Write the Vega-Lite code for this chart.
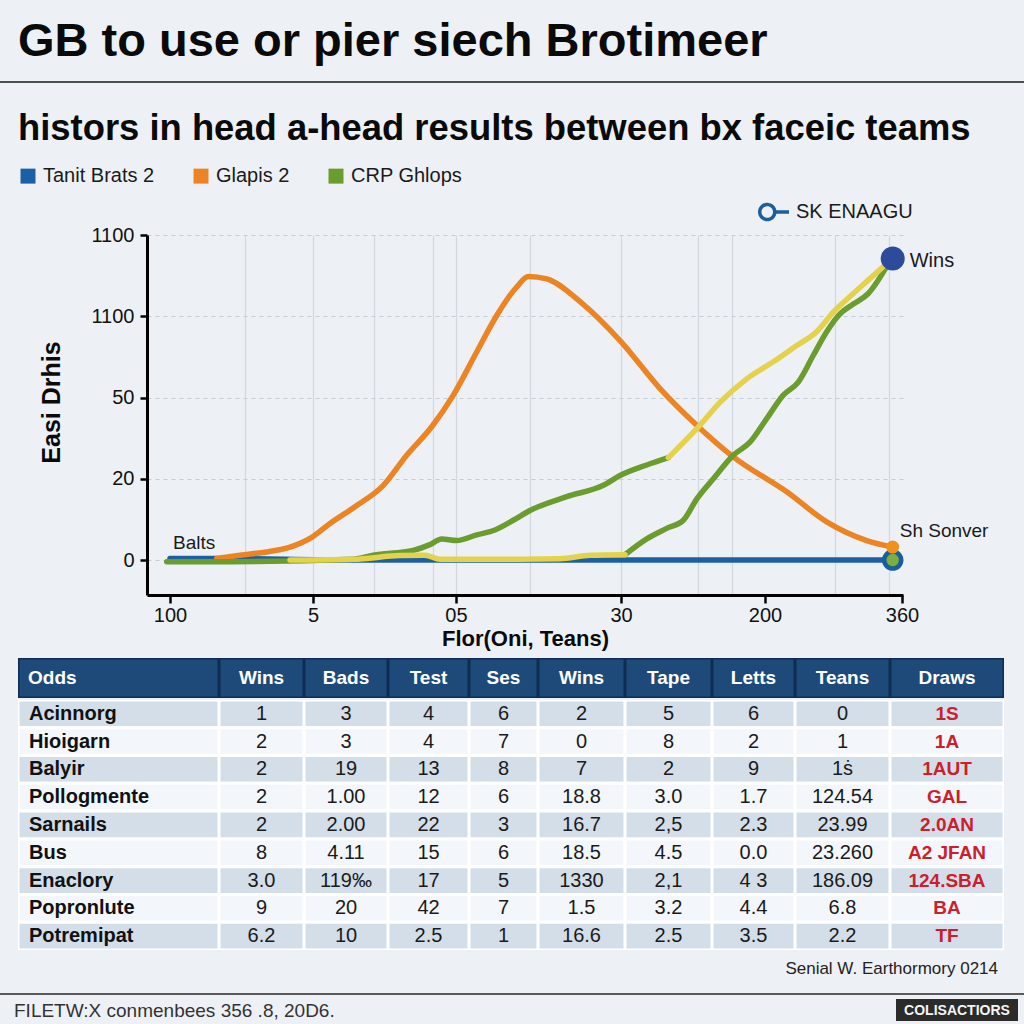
{
  "$schema": "https://vega.github.io/schema/vega-lite/v6.json",
  "background": "#edf1f6",
  "padding": {"top": 18, "left": 0, "right": 0, "bottom": 3},
  "spacing": 0,
  "resolve": {"scale": {"color": "independent", "strokeDash": "independent"}, "legend": {"color": "independent", "strokeDash": "independent"}},
  "config": {
    "view": {"stroke": null},
    "font": "Liberation Sans",
    "title": {"font": "Liberation Sans"},
    "axis": {"labelFont": "Liberation Sans", "titleFont": "Liberation Sans"},
    "legend": {"labelFont": "Liberation Sans"},
    "text": {"font": "Liberation Sans"}
  },
  "datasets": {
    "lines": [
      {"s": "Tanit Brats 2", "g": "b", "t": 3.04, "v": 0.02},
      {"s": "Tanit Brats 2", "g": "b", "t": 9.2, "v": 0.02},
      {"s": "Tanit Brats 2", "g": "b", "t": 27, "v": 0.0},
      {"s": "Tanit Brats 2", "g": "b", "t": 50, "v": 0.0},
      {"s": "Tanit Brats 2", "g": "b", "t": 98.64, "v": 0.0},
      {"s": "Glapis 2", "g": "o", "t": 9.22, "v": 0.02},
      {"s": "Glapis 2", "g": "o", "t": 12.3, "v": 0.06},
      {"s": "Glapis 2", "g": "o", "t": 15.83, "v": 0.1},
      {"s": "Glapis 2", "g": "o", "t": 18.92, "v": 0.16},
      {"s": "Glapis 2", "g": "o", "t": 21.79, "v": 0.28},
      {"s": "Glapis 2", "g": "o", "t": 24.21, "v": 0.45},
      {"s": "Glapis 2", "g": "o", "t": 27.74, "v": 0.67},
      {"s": "Glapis 2", "g": "o", "t": 31.26, "v": 0.92},
      {"s": "Glapis 2", "g": "o", "t": 34.35, "v": 1.29},
      {"s": "Glapis 2", "g": "o", "t": 37.66, "v": 1.64},
      {"s": "Glapis 2", "g": "o", "t": 40.52, "v": 2.03},
      {"s": "Glapis 2", "g": "o", "t": 43.61, "v": 2.56},
      {"s": "Glapis 2", "g": "o", "t": 46.26, "v": 3.01},
      {"s": "Glapis 2", "g": "o", "t": 48.9, "v": 3.36},
      {"s": "Glapis 2", "g": "o", "t": 50.44, "v": 3.49},
      {"s": "Glapis 2", "g": "o", "t": 52.87, "v": 3.46},
      {"s": "Glapis 2", "g": "o", "t": 57.28, "v": 3.18},
      {"s": "Glapis 2", "g": "o", "t": 62.57, "v": 2.7},
      {"s": "Glapis 2", "g": "o", "t": 67.86, "v": 2.11},
      {"s": "Glapis 2", "g": "o", "t": 72.71, "v": 1.66},
      {"s": "Glapis 2", "g": "o", "t": 77.55, "v": 1.27},
      {"s": "Glapis 2", "g": "o", "t": 84.62, "v": 0.84},
      {"s": "Glapis 2", "g": "o", "t": 89.91, "v": 0.47},
      {"s": "Glapis 2", "g": "o", "t": 95.2, "v": 0.24},
      {"s": "Glapis 2", "g": "o", "t": 98.64, "v": 0.16},
      {"s": "CRP Ghlops", "g": "g1", "t": 2.61, "v": -0.02},
      {"s": "CRP Ghlops", "g": "g1", "t": 8.33, "v": -0.02},
      {"s": "CRP Ghlops", "g": "g1", "t": 27.25, "v": 0.01},
      {"s": "CRP Ghlops", "g": "g1", "t": 29.93, "v": 0.06},
      {"s": "CRP Ghlops", "g": "g1", "t": 35.22, "v": 0.12},
      {"s": "CRP Ghlops", "g": "g1", "t": 37.43, "v": 0.19},
      {"s": "CRP Ghlops", "g": "g1", "t": 38.98, "v": 0.26},
      {"s": "CRP Ghlops", "g": "g1", "t": 40.97, "v": 0.24},
      {"s": "CRP Ghlops", "g": "g1", "t": 43.61, "v": 0.31},
      {"s": "CRP Ghlops", "g": "g1", "t": 46.03, "v": 0.37},
      {"s": "CRP Ghlops", "g": "g1", "t": 48.45, "v": 0.49},
      {"s": "CRP Ghlops", "g": "g1", "t": 50.66, "v": 0.61},
      {"s": "CRP Ghlops", "g": "g1", "t": 55.52, "v": 0.78},
      {"s": "CRP Ghlops", "g": "g1", "t": 60.36, "v": 0.92},
      {"s": "CRP Ghlops", "g": "g1", "t": 62.57, "v": 1.04},
      {"s": "CRP Ghlops", "g": "g1", "t": 66.1, "v": 1.17},
      {"s": "CRP Ghlops", "g": "g1", "t": 68.96, "v": 1.26},
      {"s": "CRP Ghlops", "g": "g2", "t": 63.23, "v": 0.065},
      {"s": "CRP Ghlops", "g": "g2", "t": 66.1, "v": 0.26},
      {"s": "CRP Ghlops", "g": "g2", "t": 68.74, "v": 0.39},
      {"s": "CRP Ghlops", "g": "g2", "t": 70.94, "v": 0.49},
      {"s": "CRP Ghlops", "g": "g2", "t": 72.71, "v": 0.75},
      {"s": "CRP Ghlops", "g": "g2", "t": 74.91, "v": 1.0},
      {"s": "CRP Ghlops", "g": "g2", "t": 77.55, "v": 1.29},
      {"s": "CRP Ghlops", "g": "g2", "t": 79.76, "v": 1.45},
      {"s": "CRP Ghlops", "g": "g2", "t": 81.97, "v": 1.74},
      {"s": "CRP Ghlops", "g": "g2", "t": 84.17, "v": 2.03},
      {"s": "CRP Ghlops", "g": "g2", "t": 86.15, "v": 2.19},
      {"s": "CRP Ghlops", "g": "g2", "t": 88.14, "v": 2.52},
      {"s": "CRP Ghlops", "g": "g2", "t": 89.91, "v": 2.81},
      {"s": "CRP Ghlops", "g": "g2", "t": 91.67, "v": 3.03},
      {"s": "CRP Ghlops", "g": "g2", "t": 93.43, "v": 3.15},
      {"s": "CRP Ghlops", "g": "g2", "t": 95.41, "v": 3.28},
      {"s": "CRP Ghlops", "g": "g2", "t": 97.84, "v": 3.61},
      {"s": "Wins", "g": "y1", "t": 18.92, "v": 0.0},
      {"s": "Wins", "g": "y1", "t": 27.25, "v": 0.01},
      {"s": "Wins", "g": "y1", "t": 33.47, "v": 0.055},
      {"s": "Wins", "g": "y1", "t": 36.77, "v": 0.06},
      {"s": "Wins", "g": "y1", "t": 38.76, "v": 0.01},
      {"s": "Wins", "g": "y1", "t": 49.34, "v": 0.01},
      {"s": "Wins", "g": "y1", "t": 54.63, "v": 0.016},
      {"s": "Wins", "g": "y1", "t": 58.6, "v": 0.058},
      {"s": "Wins", "g": "y1", "t": 63.23, "v": 0.065},
      {"s": "Wins", "g": "y2", "t": 68.96, "v": 1.26},
      {"s": "Wins", "g": "y2", "t": 73.15, "v": 1.66},
      {"s": "Wins", "g": "y2", "t": 75.79, "v": 1.94},
      {"s": "Wins", "g": "y2", "t": 79.33, "v": 2.23},
      {"s": "Wins", "g": "y2", "t": 82.84, "v": 2.44},
      {"s": "Wins", "g": "y2", "t": 85.94, "v": 2.64},
      {"s": "Wins", "g": "y2", "t": 88.58, "v": 2.81},
      {"s": "Wins", "g": "y2", "t": 90.78, "v": 3.05},
      {"s": "Wins", "g": "y2", "t": 93.43, "v": 3.28},
      {"s": "Wins", "g": "y2", "t": 96.07, "v": 3.5},
      {"s": "Wins", "g": "y2", "t": 97.84, "v": 3.65}
    ],
    "marks": [
      {"name": "Wins", "t": 98.64, "v": 3.71},
      {"name": "end", "t": 98.64, "v": 0},
      {"name": "Sh Sonver", "t": 98.64, "v": 0.16},
      {"name": "Balts", "t": 3.04, "v": 0}
    ],
    "header": [
      {"col": "c0", "label": "Odds"},
      {"col": "c1", "label": "Wins"},
      {"col": "c2", "label": "Bads"},
      {"col": "c3", "label": "Test"},
      {"col": "c4", "label": "Ses"},
      {"col": "c5", "label": "Wins"},
      {"col": "c6", "label": "Tape"},
      {"col": "c7", "label": "Letts"},
      {"col": "c8", "label": "Teans"},
      {"col": "c9", "label": "Draws"}
    ],
    "table": [
      {"i": 1, "c0": "Acinnorg", "c1": "1", "c2": "3", "c3": "4", "c4": "6", "c5": "2", "c6": "5", "c7": "6", "c8": "0", "c9": "1S"},
      {"i": 2, "c0": "Hioigarn", "c1": "2", "c2": "3", "c3": "4", "c4": "7", "c5": "0", "c6": "8", "c7": "2", "c8": "1", "c9": "1A"},
      {"i": 3, "c0": "Balyir", "c1": "2", "c2": "19", "c3": "13", "c4": "8", "c5": "7", "c6": "2", "c7": "9", "c8": "1ṡ", "c9": "1AUT"},
      {"i": 4, "c0": "Pollogmente", "c1": "2", "c2": "1.00", "c3": "12", "c4": "6", "c5": "18.8", "c6": "3.0", "c7": "1.7", "c8": "124.54", "c9": "GAL"},
      {"i": 5, "c0": "Sarnails", "c1": "2", "c2": "2.00", "c3": "22", "c4": "3", "c5": "16.7", "c6": "2,5", "c7": "2.3", "c8": "23.99", "c9": "2.0AN"},
      {"i": 6, "c0": "Bus", "c1": "8", "c2": "4.11", "c3": "15", "c4": "6", "c5": "18.5", "c6": "4.5", "c7": "0.0", "c8": "23.260", "c9": "A2 JFAN"},
      {"i": 7, "c0": "Enaclory", "c1": "3.0", "c2": "119‰", "c3": "17", "c4": "5", "c5": "1330", "c6": "2,1", "c7": "4 3", "c8": "186.09", "c9": "124.SBA"},
      {"i": 8, "c0": "Popronlute", "c1": "9", "c2": "20", "c3": "42", "c4": "7", "c5": "1.5", "c6": "3.2", "c7": "4.4", "c8": "6.8", "c9": "BA"},
      {"i": 9, "c0": "Potremipat", "c1": "6.2", "c2": "10", "c3": "2.5", "c4": "1", "c5": "16.6", "c6": "2.5", "c7": "3.5", "c8": "2.2", "c9": "TF"}
    ]
  },
  "vconcat": [
    {
      "width": 1024, "height": 2, "data": {"values": []}, "mark": "point",
      "view": {"fill": "#4f4f4f"},
      "title": {"text": "GB to use or pier siech Brotimeer", "anchor": "start", "frame": "group", "dx": 18, "offset": 15, "fontSize": 47, "fontWeight": "bold", "color": "#0a0a0a"}
    },
    {"width": 1, "height": 27, "data": {"values": []}, "mark": "point"},
    {
      "spacing": 0,
      "resolve": {"scale": {"color": "independent", "strokeDash": "independent"}, "legend": {"color": "independent", "strokeDash": "independent"}},
      "hconcat": [
        {"width": 18, "height": 1, "data": {"values": []}, "mark": "point"},
        {
          "width": 756, "height": 360,
          "title": {"text": "histors in head a-head results between bx faceic teams", "anchor": "start", "frame": "group", "dx": -129, "offset": 19, "fontSize": 36.4, "fontWeight": "bold", "color": "#0a0a0a"},
          "resolve": {"axis": {"x": "independent", "y": "independent"}},
          "layer": [
            {
              "data": {"name": "lines"},
              "mark": {"type": "line", "strokeWidth": 5.5, "strokeCap": "round", "strokeJoin": "round", "interpolate": "monotone"},
              "encoding": {
                "x": {"field": "t", "type": "quantitative", "scale": {"domain": [0, 100], "nice": false, "zero": false},
                  "axis": {"orient": "bottom", "values": [3.04, 21.96, 40.87, 62.7, 81.75, 99.87],
                    "labelExpr": "datum.value < 10 ? '100' : datum.value < 30 ? '5' : datum.value < 50 ? '05' : datum.value < 70 ? '30' : datum.value < 90 ? '200' : '360'",
                    "grid": false, "domainColor": "#000000", "domainWidth": 3, "tickColor": "#000000", "tickWidth": 2.5, "tickSize": 8,
                    "labelFontSize": 20, "labelColor": "#111111", "labelPadding": 2, "labelFlush": false, "labelOverlap": false,
                    "title": "Flor(Oni, Teans)", "titleFontSize": 22, "titleFontWeight": "bold", "titleColor": "#0a0a0a", "titlePadding": 3}},
                "y": {"field": "v", "type": "quantitative", "scale": {"domain": [-0.43, 4], "nice": false, "zero": false},
                  "axis": {"orient": "left", "values": [0, 1, 2, 3, 4],
                    "labelExpr": "datum.value == 0 ? '0' : datum.value == 1 ? '20' : datum.value == 2 ? '50' : '1100'",
                    "grid": true, "gridDash": [4, 4], "gridColor": "#c5ccd5", "gridWidth": 1,
                    "domainColor": "#000000", "domainWidth": 3, "tickColor": "#000000", "tickWidth": 2.5, "tickSize": 7,
                    "labelFontSize": 20, "labelColor": "#111111", "labelPadding": 6, "labelFlush": false, "labelOverlap": false,
                    "title": "Easi Drhis", "titleFontSize": 25, "titleFontWeight": "bold", "titleColor": "#0a0a0a",
                    "titleAngle": 270, "titleBaseline": "bottom", "titleAlign": "center", "titleX": -83, "titleY": 167}},
                "color": {"field": "s", "type": "nominal",
                  "scale": {"domain": ["Tanit Brats 2", "Glapis 2", "CRP Ghlops", "Wins"], "range": ["#1d5fa4", "#ec8424", "#6b9c2e", "#e4d24c"]},
                  "legend": {"orient": "none", "legendX": -129, "legendY": -69, "direction": "horizontal", "title": null,
                    "values": ["Tanit Brats 2", "Glapis 2", "CRP Ghlops"],
                    "symbolType": "square", "symbolSize": 56, "symbolStrokeWidth": 7.5, "symbolOpacity": 1,
                    "labelFontSize": 20, "labelOffset": 5, "columnPadding": 27, "labelColor": "#1a1a1a"}},
                "detail": {"field": "g"}
              }
            },
            {
              "data": {"name": "marks"},
              "transform": [{"filter": "datum.name == 'Wins'"}],
              "mark": {"type": "point", "filled": true, "size": 576, "color": "#2e4b9b", "opacity": 1},
              "encoding": {
                "x": {"field": "t", "type": "quantitative",
                  "axis": {"orient": "top", "values": [12.96, 21.96, 30.03, 37.83, 40.87, 50.66, 62.7, 72.88, 77.38, 91.01, 98.15],
                    "grid": true, "gridColor": "#d2d8e0", "gridWidth": 1.2, "labels": false, "ticks": false, "domain": false, "title": null}},
                "y": {"field": "v", "type": "quantitative", "axis": null}
              }
            },
            {
              "data": {"name": "marks"},
              "transform": [{"filter": "datum.name == 'end'"}],
              "mark": {"type": "point", "filled": true, "size": 289, "fill": "#79b040", "stroke": "#1c5e9c", "strokeWidth": 4.5, "opacity": 1},
              "encoding": {
                "x": {"field": "t", "type": "quantitative", "axis": null},
                "y": {"field": "v", "type": "quantitative", "axis": null}
              }
            },
            {
              "data": {"name": "marks"},
              "transform": [{"filter": "datum.name == 'Sh Sonver'"}],
              "mark": {"type": "point", "filled": true, "size": 169, "color": "#f0901e", "opacity": 1},
              "encoding": {
                "x": {"field": "t", "type": "quantitative", "axis": null},
                "y": {"field": "v", "type": "quantitative", "axis": null}
              }
            },
            {
              "data": {"name": "marks"},
              "transform": [{"filter": "datum.name == 'Wins'"}],
              "mark": {"type": "text", "align": "left", "baseline": "middle", "dx": 17, "dy": 2, "fontSize": 20, "color": "#1a1a1a"},
              "encoding": {
                "x": {"field": "t", "type": "quantitative", "axis": null},
                "y": {"field": "v", "type": "quantitative", "axis": null},
                "text": {"field": "name"}
              }
            },
            {
              "data": {"name": "marks"},
              "transform": [{"filter": "datum.name == 'Sh Sonver'"}],
              "mark": {"type": "text", "align": "left", "baseline": "middle", "dx": 7, "dy": -16, "fontSize": 19, "color": "#1a1a1a"},
              "encoding": {
                "x": {"field": "t", "type": "quantitative", "axis": null},
                "y": {"field": "v", "type": "quantitative", "axis": null},
                "text": {"field": "name"}
              }
            },
            {
              "data": {"name": "marks"},
              "transform": [{"filter": "datum.name == 'Balts'"}],
              "mark": {"type": "text", "align": "left", "baseline": "middle", "dx": 3, "dy": -17, "fontSize": 19, "color": "#1a1a1a"},
              "encoding": {
                "x": {"field": "t", "type": "quantitative", "axis": null},
                "y": {"field": "v", "type": "quantitative", "axis": null},
                "text": {"field": "name"}
              }
            },
            {
              "data": {"values": []},
              "mark": {"type": "point", "filled": false, "color": "#1c5e9c", "strokeWidth": 3.5, "opacity": 1},
              "encoding": {
                "strokeDash": {"datum": "SK ENAAGU", "type": "nominal", "scale": {"range": [[1, 0]]},
                  "legend": {"orient": "none", "legendX": 610, "legendY": -40, "title": null,
                    "symbolType": "M-0.95,0A0.5,0.5,0,1,1,0.05,0A0.5,0.5,0,1,1,-0.95,0ZM0.05,0L1,0",
                    "symbolSize": 900, "symbolStrokeColor": "#1c5e9c", "symbolFillColor": "transparent", "symbolStrokeWidth": 3.5, "symbolOpacity": 1,
                    "labelFontSize": 20, "labelOffset": 5, "labelColor": "#1a1a1a"}}
              }
            }
          ]
        }
      ]
    },
    {"width": 1, "height": 9, "data": {"values": []}, "mark": "point"},
    {
      "spacing": 0,
      "hconcat": [
        {"width": 18, "height": 1, "data": {"values": []}, "mark": "point"},
        {"width": 201, "height": 40, "data": {"name": "header"}, "transform": [{"filter": "datum.col == 'c0'"}], "layer": [
          {"mark": {"type": "rect", "fill": "#1e4a7a", "stroke": "#0f2d52", "strokeWidth": 3, "clip": true}, "encoding": {"x": {"datum": "c", "type": "nominal", "scale": {"type": "band", "paddingInner": 0, "paddingOuter": 0}, "axis": null}}},
          {"mark": {"type": "text", "color": "#ffffff", "fontWeight": "bold", "fontSize": 19, "align": "left", "dx": 10}, "encoding": {"x": {"datum": "c", "type": "nominal", "bandPosition": 0, "axis": null}, "text": {"field": "label"}}}]},
        {"width": 85, "height": 40, "data": {"name": "header"}, "transform": [{"filter": "datum.col == 'c1'"}], "layer": [
          {"mark": {"type": "rect", "fill": "#1e4a7a", "stroke": "#0f2d52", "strokeWidth": 3, "clip": true}, "encoding": {"x": {"datum": "c", "type": "nominal", "scale": {"type": "band", "paddingInner": 0, "paddingOuter": 0}, "axis": null}}},
          {"mark": {"type": "text", "color": "#ffffff", "fontWeight": "bold", "fontSize": 19}, "encoding": {"x": {"datum": "c", "type": "nominal", "axis": null}, "text": {"field": "label"}}}]},
        {"width": 84, "height": 40, "data": {"name": "header"}, "transform": [{"filter": "datum.col == 'c2'"}], "layer": [
          {"mark": {"type": "rect", "fill": "#1e4a7a", "stroke": "#0f2d52", "strokeWidth": 3, "clip": true}, "encoding": {"x": {"datum": "c", "type": "nominal", "scale": {"type": "band", "paddingInner": 0, "paddingOuter": 0}, "axis": null}}},
          {"mark": {"type": "text", "color": "#ffffff", "fontWeight": "bold", "fontSize": 19}, "encoding": {"x": {"datum": "c", "type": "nominal", "axis": null}, "text": {"field": "label"}}}]},
        {"width": 81, "height": 40, "data": {"name": "header"}, "transform": [{"filter": "datum.col == 'c3'"}], "layer": [
          {"mark": {"type": "rect", "fill": "#1e4a7a", "stroke": "#0f2d52", "strokeWidth": 3, "clip": true}, "encoding": {"x": {"datum": "c", "type": "nominal", "scale": {"type": "band", "paddingInner": 0, "paddingOuter": 0}, "axis": null}}},
          {"mark": {"type": "text", "color": "#ffffff", "fontWeight": "bold", "fontSize": 19}, "encoding": {"x": {"datum": "c", "type": "nominal", "axis": null}, "text": {"field": "label"}}}]},
        {"width": 69, "height": 40, "data": {"name": "header"}, "transform": [{"filter": "datum.col == 'c4'"}], "layer": [
          {"mark": {"type": "rect", "fill": "#1e4a7a", "stroke": "#0f2d52", "strokeWidth": 3, "clip": true}, "encoding": {"x": {"datum": "c", "type": "nominal", "scale": {"type": "band", "paddingInner": 0, "paddingOuter": 0}, "axis": null}}},
          {"mark": {"type": "text", "color": "#ffffff", "fontWeight": "bold", "fontSize": 19}, "encoding": {"x": {"datum": "c", "type": "nominal", "axis": null}, "text": {"field": "label"}}}]},
        {"width": 87, "height": 40, "data": {"name": "header"}, "transform": [{"filter": "datum.col == 'c5'"}], "layer": [
          {"mark": {"type": "rect", "fill": "#1e4a7a", "stroke": "#0f2d52", "strokeWidth": 3, "clip": true}, "encoding": {"x": {"datum": "c", "type": "nominal", "scale": {"type": "band", "paddingInner": 0, "paddingOuter": 0}, "axis": null}}},
          {"mark": {"type": "text", "color": "#ffffff", "fontWeight": "bold", "fontSize": 19}, "encoding": {"x": {"datum": "c", "type": "nominal", "axis": null}, "text": {"field": "label"}}}]},
        {"width": 87, "height": 40, "data": {"name": "header"}, "transform": [{"filter": "datum.col == 'c6'"}], "layer": [
          {"mark": {"type": "rect", "fill": "#1e4a7a", "stroke": "#0f2d52", "strokeWidth": 3, "clip": true}, "encoding": {"x": {"datum": "c", "type": "nominal", "scale": {"type": "band", "paddingInner": 0, "paddingOuter": 0}, "axis": null}}},
          {"mark": {"type": "text", "color": "#ffffff", "fontWeight": "bold", "fontSize": 19}, "encoding": {"x": {"datum": "c", "type": "nominal", "axis": null}, "text": {"field": "label"}}}]},
        {"width": 83, "height": 40, "data": {"name": "header"}, "transform": [{"filter": "datum.col == 'c7'"}], "layer": [
          {"mark": {"type": "rect", "fill": "#1e4a7a", "stroke": "#0f2d52", "strokeWidth": 3, "clip": true}, "encoding": {"x": {"datum": "c", "type": "nominal", "scale": {"type": "band", "paddingInner": 0, "paddingOuter": 0}, "axis": null}}},
          {"mark": {"type": "text", "color": "#ffffff", "fontWeight": "bold", "fontSize": 19}, "encoding": {"x": {"datum": "c", "type": "nominal", "axis": null}, "text": {"field": "label"}}}]},
        {"width": 95, "height": 40, "data": {"name": "header"}, "transform": [{"filter": "datum.col == 'c8'"}], "layer": [
          {"mark": {"type": "rect", "fill": "#1e4a7a", "stroke": "#0f2d52", "strokeWidth": 3, "clip": true}, "encoding": {"x": {"datum": "c", "type": "nominal", "scale": {"type": "band", "paddingInner": 0, "paddingOuter": 0}, "axis": null}}},
          {"mark": {"type": "text", "color": "#ffffff", "fontWeight": "bold", "fontSize": 19}, "encoding": {"x": {"datum": "c", "type": "nominal", "axis": null}, "text": {"field": "label"}}}]},
        {"width": 114, "height": 40, "data": {"name": "header"}, "transform": [{"filter": "datum.col == 'c9'"}], "layer": [
          {"mark": {"type": "rect", "fill": "#1e4a7a", "stroke": "#0f2d52", "strokeWidth": 3, "clip": true}, "encoding": {"x": {"datum": "c", "type": "nominal", "scale": {"type": "band", "paddingInner": 0, "paddingOuter": 0}, "axis": null}}},
          {"mark": {"type": "text", "color": "#ffffff", "fontWeight": "bold", "fontSize": 19}, "encoding": {"x": {"datum": "c", "type": "nominal", "axis": null}, "text": {"field": "label"}}}]}
      ]
    },
    {"width": 1, "height": 2, "data": {"values": []}, "mark": "point"},
    {
      "spacing": 0,
      "hconcat": [
        {"width": 18, "height": 1, "data": {"values": []}, "mark": "point"},
        {"width": 201, "height": 250, "data": {"name": "table"}, "layer": [
          {"mark": {"type": "rect", "stroke": "#ffffff", "strokeWidth": 3, "clip": true}, "encoding": {"x": {"datum": "c", "type": "nominal", "scale": {"type": "band", "paddingInner": 0, "paddingOuter": 0}, "axis": null}, "y": {"field": "i", "type": "ordinal", "scale": {"type": "band", "paddingInner": 0, "paddingOuter": 0}, "axis": null}, "color": {"condition": {"test": "datum.i % 2 == 1", "value": "#d3dee9"}, "value": "#f3f6fa"}}},
          {"mark": {"type": "text", "fontSize": 20, "fontWeight": "bold", "color": "#111111", "align": "left", "dx": 11}, "encoding": {"x": {"datum": "c", "type": "nominal", "bandPosition": 0, "axis": null}, "y": {"field": "i", "type": "ordinal", "axis": null}, "text": {"field": "c0"}}}]},
        {"width": 85, "height": 250, "data": {"name": "table"}, "layer": [
          {"mark": {"type": "rect", "stroke": "#ffffff", "strokeWidth": 3, "clip": true}, "encoding": {"x": {"datum": "c", "type": "nominal", "scale": {"type": "band", "paddingInner": 0, "paddingOuter": 0}, "axis": null}, "y": {"field": "i", "type": "ordinal", "scale": {"type": "band", "paddingInner": 0, "paddingOuter": 0}, "axis": null}, "color": {"condition": {"test": "datum.i % 2 == 1", "value": "#d3dee9"}, "value": "#f3f6fa"}}},
          {"mark": {"type": "text", "fontSize": 20, "color": "#1a1a1a"}, "encoding": {"x": {"datum": "c", "type": "nominal", "axis": null}, "y": {"field": "i", "type": "ordinal", "axis": null}, "text": {"field": "c1"}}}]},
        {"width": 84, "height": 250, "data": {"name": "table"}, "layer": [
          {"mark": {"type": "rect", "stroke": "#ffffff", "strokeWidth": 3, "clip": true}, "encoding": {"x": {"datum": "c", "type": "nominal", "scale": {"type": "band", "paddingInner": 0, "paddingOuter": 0}, "axis": null}, "y": {"field": "i", "type": "ordinal", "scale": {"type": "band", "paddingInner": 0, "paddingOuter": 0}, "axis": null}, "color": {"condition": {"test": "datum.i % 2 == 1", "value": "#d3dee9"}, "value": "#f3f6fa"}}},
          {"mark": {"type": "text", "fontSize": 20, "color": "#1a1a1a"}, "encoding": {"x": {"datum": "c", "type": "nominal", "axis": null}, "y": {"field": "i", "type": "ordinal", "axis": null}, "text": {"field": "c2"}}}]},
        {"width": 81, "height": 250, "data": {"name": "table"}, "layer": [
          {"mark": {"type": "rect", "stroke": "#ffffff", "strokeWidth": 3, "clip": true}, "encoding": {"x": {"datum": "c", "type": "nominal", "scale": {"type": "band", "paddingInner": 0, "paddingOuter": 0}, "axis": null}, "y": {"field": "i", "type": "ordinal", "scale": {"type": "band", "paddingInner": 0, "paddingOuter": 0}, "axis": null}, "color": {"condition": {"test": "datum.i % 2 == 1", "value": "#d3dee9"}, "value": "#f3f6fa"}}},
          {"mark": {"type": "text", "fontSize": 20, "color": "#1a1a1a"}, "encoding": {"x": {"datum": "c", "type": "nominal", "axis": null}, "y": {"field": "i", "type": "ordinal", "axis": null}, "text": {"field": "c3"}}}]},
        {"width": 69, "height": 250, "data": {"name": "table"}, "layer": [
          {"mark": {"type": "rect", "stroke": "#ffffff", "strokeWidth": 3, "clip": true}, "encoding": {"x": {"datum": "c", "type": "nominal", "scale": {"type": "band", "paddingInner": 0, "paddingOuter": 0}, "axis": null}, "y": {"field": "i", "type": "ordinal", "scale": {"type": "band", "paddingInner": 0, "paddingOuter": 0}, "axis": null}, "color": {"condition": {"test": "datum.i % 2 == 1", "value": "#d3dee9"}, "value": "#f3f6fa"}}},
          {"mark": {"type": "text", "fontSize": 20, "color": "#1a1a1a"}, "encoding": {"x": {"datum": "c", "type": "nominal", "axis": null}, "y": {"field": "i", "type": "ordinal", "axis": null}, "text": {"field": "c4"}}}]},
        {"width": 87, "height": 250, "data": {"name": "table"}, "layer": [
          {"mark": {"type": "rect", "stroke": "#ffffff", "strokeWidth": 3, "clip": true}, "encoding": {"x": {"datum": "c", "type": "nominal", "scale": {"type": "band", "paddingInner": 0, "paddingOuter": 0}, "axis": null}, "y": {"field": "i", "type": "ordinal", "scale": {"type": "band", "paddingInner": 0, "paddingOuter": 0}, "axis": null}, "color": {"condition": {"test": "datum.i % 2 == 1", "value": "#d3dee9"}, "value": "#f3f6fa"}}},
          {"mark": {"type": "text", "fontSize": 20, "color": "#1a1a1a"}, "encoding": {"x": {"datum": "c", "type": "nominal", "axis": null}, "y": {"field": "i", "type": "ordinal", "axis": null}, "text": {"field": "c5"}}}]},
        {"width": 87, "height": 250, "data": {"name": "table"}, "layer": [
          {"mark": {"type": "rect", "stroke": "#ffffff", "strokeWidth": 3, "clip": true}, "encoding": {"x": {"datum": "c", "type": "nominal", "scale": {"type": "band", "paddingInner": 0, "paddingOuter": 0}, "axis": null}, "y": {"field": "i", "type": "ordinal", "scale": {"type": "band", "paddingInner": 0, "paddingOuter": 0}, "axis": null}, "color": {"condition": {"test": "datum.i % 2 == 1", "value": "#d3dee9"}, "value": "#f3f6fa"}}},
          {"mark": {"type": "text", "fontSize": 20, "color": "#1a1a1a"}, "encoding": {"x": {"datum": "c", "type": "nominal", "axis": null}, "y": {"field": "i", "type": "ordinal", "axis": null}, "text": {"field": "c6"}}}]},
        {"width": 83, "height": 250, "data": {"name": "table"}, "layer": [
          {"mark": {"type": "rect", "stroke": "#ffffff", "strokeWidth": 3, "clip": true}, "encoding": {"x": {"datum": "c", "type": "nominal", "scale": {"type": "band", "paddingInner": 0, "paddingOuter": 0}, "axis": null}, "y": {"field": "i", "type": "ordinal", "scale": {"type": "band", "paddingInner": 0, "paddingOuter": 0}, "axis": null}, "color": {"condition": {"test": "datum.i % 2 == 1", "value": "#d3dee9"}, "value": "#f3f6fa"}}},
          {"mark": {"type": "text", "fontSize": 20, "color": "#1a1a1a"}, "encoding": {"x": {"datum": "c", "type": "nominal", "axis": null}, "y": {"field": "i", "type": "ordinal", "axis": null}, "text": {"field": "c7"}}}]},
        {"width": 95, "height": 250, "data": {"name": "table"}, "layer": [
          {"mark": {"type": "rect", "stroke": "#ffffff", "strokeWidth": 3, "clip": true}, "encoding": {"x": {"datum": "c", "type": "nominal", "scale": {"type": "band", "paddingInner": 0, "paddingOuter": 0}, "axis": null}, "y": {"field": "i", "type": "ordinal", "scale": {"type": "band", "paddingInner": 0, "paddingOuter": 0}, "axis": null}, "color": {"condition": {"test": "datum.i % 2 == 1", "value": "#d3dee9"}, "value": "#f3f6fa"}}},
          {"mark": {"type": "text", "fontSize": 20, "color": "#1a1a1a"}, "encoding": {"x": {"datum": "c", "type": "nominal", "axis": null}, "y": {"field": "i", "type": "ordinal", "axis": null}, "text": {"field": "c8"}}}]},
        {"width": 114, "height": 250, "data": {"name": "table"}, "layer": [
          {"mark": {"type": "rect", "stroke": "#ffffff", "strokeWidth": 3, "clip": true}, "encoding": {"x": {"datum": "c", "type": "nominal", "scale": {"type": "band", "paddingInner": 0, "paddingOuter": 0}, "axis": null}, "y": {"field": "i", "type": "ordinal", "scale": {"type": "band", "paddingInner": 0, "paddingOuter": 0}, "axis": null}, "color": {"condition": {"test": "datum.i % 2 == 1", "value": "#d3dee9"}, "value": "#f3f6fa"}}},
          {"mark": {"type": "text", "fontSize": 19, "fontWeight": "bold", "color": "#cc1f2d"}, "encoding": {"x": {"datum": "c", "type": "nominal", "axis": null}, "y": {"field": "i", "type": "ordinal", "axis": null}, "text": {"field": "c9"}}}]}
      ]
    },
    {"width": 1, "height": 10, "data": {"values": []}, "mark": "point"},
    {
      "width": 1024, "height": 2, "data": {"values": []}, "mark": "point",
      "view": {"fill": "#5a5a5a"},
      "title": {"text": "Senial W. Earthormory 0214", "anchor": "end", "frame": "group", "dx": -26, "offset": 15, "fontSize": 17, "fontWeight": "normal", "color": "#222222"}
    },
    {"width": 1, "height": 4, "data": {"values": []}, "mark": "point"},
    {
      "spacing": 0,
      "hconcat": [
        {"width": 896, "height": 22, "data": {"values": []}, "mark": "point",
          "title": {"text": "FILETW:X conmenbees 356 .8, 20D6.", "orient": "bottom", "anchor": "start", "frame": "group", "dx": 14, "offset": -19, "fontSize": 19, "fontWeight": "normal", "color": "#333333"}},
        {"width": 122, "height": 22, "data": {"values": []}, "mark": "point",
          "view": {"fill": "#2b2b2b"},
          "title": {"text": "COLISACTIORS", "orient": "bottom", "anchor": "middle", "frame": "group", "offset": -17, "fontSize": 14, "fontWeight": "bold", "color": "#f5f5f5"}}
      ]
    }
  ]
}
